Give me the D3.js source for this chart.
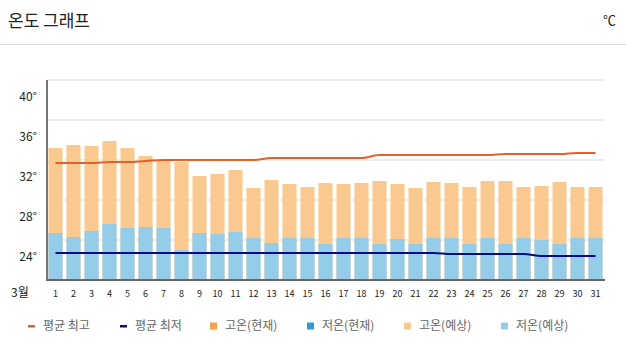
<!DOCTYPE html>
<html>
<head>
<meta charset="utf-8">
<script src="https://cdn.jsdelivr.net/npm/d3@7"></script>
<style>
  body { margin: 0; background: #fff; }
  text { font-family: "Noto Sans CJK KR", "Noto Sans", sans-serif; }
</style>
</head>
<body>
<script>
var width = 626;
var height = 354;

// 3월 일자
var days = d3.range(1, 32);
// 고온(예상)
var highs = [33.2, 33.5, 33.4, 33.9, 33.2, 32.4, 31.9, 31.8, 30.4, 30.6, 31.0, 29.2, 30.0, 29.6, 29.3, 29.7,
             29.6, 29.7, 29.9, 29.6, 29.2, 29.8, 29.7, 29.3, 29.9, 29.9, 29.3, 29.4, 29.8, 29.3, 29.3];
// 저온(예상)
var lows = [24.7, 24.3, 24.9, 25.6, 25.2, 25.3, 25.2, 23.0, 24.7, 24.6, 24.8, 24.2, 23.7, 24.2, 24.2, 23.6,
            24.2, 24.2, 23.6, 24.1, 23.6, 24.2, 24.2, 23.6, 24.2, 23.6, 24.2, 24.0, 23.6, 24.2, 24.2];
// 평균 최고
var avgMax = [31.7, 31.7, 31.7, 31.8, 31.8, 31.9, 32.0, 32.0, 32.0, 32.0, 32.0, 32.0, 32.2, 32.2, 32.2, 32.2,
              32.2, 32.2, 32.5, 32.5, 32.5, 32.5, 32.5, 32.5, 32.5, 32.6, 32.6, 32.6, 32.6, 32.7, 32.7];
// 평균 최저
var avgMin = [22.7, 22.7, 22.7, 22.7, 22.7, 22.7, 22.7, 22.7, 22.7, 22.7, 22.7, 22.7, 22.7, 22.7, 22.7, 22.7,
              22.7, 22.7, 22.7, 22.7, 22.7, 22.7, 22.6, 22.6, 22.6, 22.6, 22.6, 22.4, 22.4, 22.4, 22.4];
var yTicks = [24, 28, 32, 36, 40];
var legendNames = ["평균 최고", "평균 최저", "고온(현재)", "저온(현재)", "고온(예상)", "저온(예상)"];
var legendColors = ["#e4602a", "#0a0a82", "#f5a04a", "#2e9bd6", "#fac98f", "#93cdea"];

var svg = d3.select("body")
  .append("svg")
  .attr("width", width)
  .attr("height", height);

// header
svg.append("text")
  .attr("x", 8)
  .attr("y", 27)
  .attr("font-size", "17px")
  .attr("fill", "#222")
  .text("온도 그래프");

svg.append("text")
  .attr("x", 616)
  .attr("y", 25)
  .attr("text-anchor", "end")
  .attr("font-size", "13px")
  .attr("fill", "#222")
  .text("℃");

svg.append("line")
  .attr("x1", 0).attr("x2", width)
  .attr("y1", 44.5).attr("y2", 44.5)
  .style("stroke", "#dcdcdc")
  .style("stroke-width", 1);

var x = d3.scaleBand()
  .domain(days)
  .range([46.5, 604.5])
  .paddingInner(0.22)
  .paddingOuter(0.11);

var y = d3.scaleLinear()
  .domain([20, 40])
  .range([280, 80]);

// grid
svg.selectAll(".grid")
  .data(yTicks)
  .enter()
  .append("line")
  .attr("x1", 47).attr("x2", 605)
  .attr("y1", d => y(d)).attr("y2", d => y(d))
  .style("stroke", "#ededed")
  .style("stroke-width", 2);

// y labels (drawn inside each band, like the original)
svg.selectAll(".ylab")
  .data(yTicks)
  .enter()
  .append("text")
  .attr("x", 37)
  .attr("y", d => y(d) + 17)
  .attr("dy", "0.35em")
  .attr("text-anchor", "end")
  .attr("font-size", "12px")
  .attr("fill", "#222")
  .text(d => d + "°");

// high bars
svg.selectAll(".high")
  .data(days)
  .enter()
  .append("rect")
  .attr("x", d => x(d))
  .attr("width", x.bandwidth())
  .attr("y", (d, i) => y(highs[i]))
  .attr("height", (d, i) => y(20) - y(highs[i]))
  .style("fill", legendColors[4]);

// low bars
svg.selectAll(".low")
  .data(days)
  .enter()
  .append("rect")
  .attr("x", d => x(d))
  .attr("width", x.bandwidth())
  .attr("y", (d, i) => y(lows[i]))
  .attr("height", (d, i) => y(20) - y(lows[i]))
  .style("fill", legendColors[5]);

var line = d3.line()
  .x((d, i) => x(days[i]) + x.bandwidth() / 2)
  .y(d => y(d))
  .curve(d3.curveMonotoneX);

svg.append("path")
  .attr("d", line(avgMax))
  .style("fill", "none")
  .style("stroke", legendColors[0])
  .style("stroke-width", 2);

svg.append("path")
  .attr("d", line(avgMin))
  .style("fill", "none")
  .style("stroke", legendColors[1])
  .style("stroke-width", 2);

// axes lines
svg.append("line")
  .attr("x1", 47).attr("x2", 47)
  .attr("y1", 80).attr("y2", 281)
  .style("stroke", "#777")
  .style("stroke-width", 2);

svg.append("line")
  .attr("x1", 46).attr("x2", 605)
  .attr("y1", 280).attr("y2", 280)
  .style("stroke", "#666")
  .style("stroke-width", 2);

// x labels
svg.append("text")
  .attr("x", 11)
  .attr("y", 293)
  .attr("dy", "0.35em")
  .attr("font-size", "12px")
  .attr("fill", "#222")
  .text("3월");

svg.selectAll(".xlab")
  .data(days)
  .enter()
  .append("text")
  .attr("x", d => x(d) + x.bandwidth() / 2)
  .attr("y", 294)
  .attr("dy", "0.35em")
  .attr("text-anchor", "middle")
  .attr("font-size", "9px")
  .attr("fill", "#222")
  .text(d => d);

// legend
var legendX = [28, 120, 210, 307, 404, 501];
var legend = svg.selectAll(".legend")
  .data(legendNames)
  .enter()
  .append("g")
  .attr("transform", (d, i) => `translate(${legendX[i]}, 326)`);

legend.append("rect")
  .attr("x", 0)
  .attr("y", (d, i) => i < 2 ? -1 : -3.5)
  .attr("width", 7)
  .attr("height", (d, i) => i < 2 ? 2.5 : 7)
  .style("fill", (d, i) => legendColors[i]);

legend.append("text")
  .attr("x", 15)
  .attr("y", 0)
  .attr("dy", "0.35em")
  .attr("font-size", "12px")
  .attr("fill", "#666")
  .text(d => d);
</script>
</body>
</html>
